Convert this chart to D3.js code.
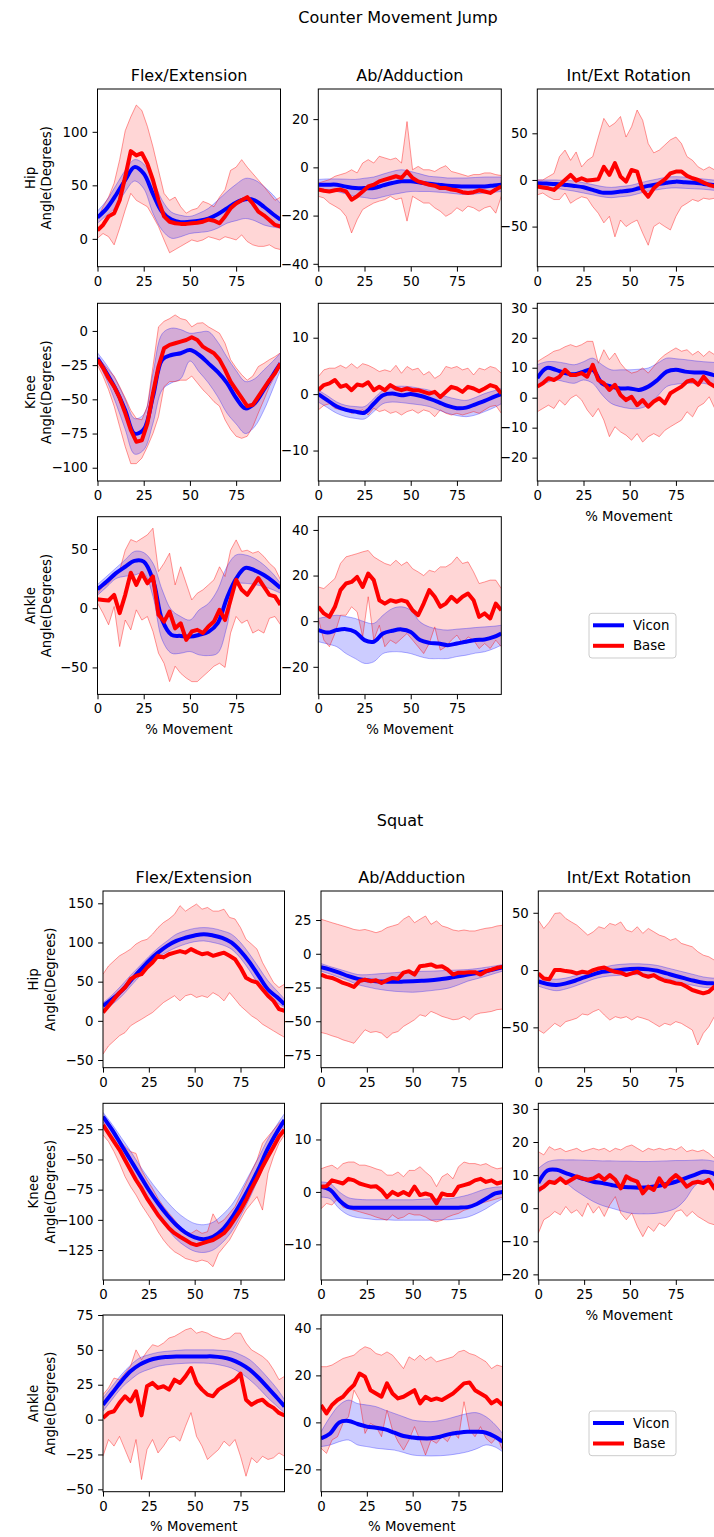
<!DOCTYPE html>
<html>
<head>
<meta charset="utf-8">
<title>Counter Movement Jump / Squat</title>
<style>
  body { margin: 0; background: #fff; }
  svg { display: block; font-family: "DejaVu Sans", sans-serif; }
</style>
</head>
<body>
<svg id="chart" width="714" height="1537"></svg>
<script src="https://cdn.jsdelivr.net/npm/d3@7"></script>
<script>
// % movement of the sampled points
var pctSmooth = [0, 5, 10, 15, 20, 25, 30, 35, 40, 45, 50, 55, 60, 65, 70, 75, 80, 85, 90, 95, 99];
var pctRaw = [0, 3, 6, 9, 12, 15, 18, 21, 24, 27, 30, 33, 36, 39, 42, 45, 48, 51, 54, 57, 60, 63, 66, 69, 72, 75, 78, 81, 84, 87, 90, 93, 96, 99];
var pctTicks = [0, 25, 50, 75];

var figTitles = ["Counter Movement Jump", "Squat"];
var colTitles = ["Flex/Extension", "Ab/Adduction", "Int/Ext Rotation"];
var jointNames = ["Hip", "Knee", "Ankle"];
var seriesNames = ["Vicon", "Base"];

// ---- Counter Movement Jump ----
var cmjHipFlexVicon   = [20, 28.5, 41, 55, 67, 61, 42, 25, 18, 15.5, 16, 17, 19, 23, 28.5, 34, 37, 36, 30, 23, 18];
var cmjHipFlexViconHi = [26, 36, 50, 64, 74, 70, 55, 36, 25, 22, 21, 24, 28.5, 36, 44, 51, 56.5, 55, 49, 41, 33];
var cmjHipFlexViconLo = [14.6, 22, 30, 44, 54, 47, 24, 8, 0.6, 2, 5, 6, 7, 10, 14.6, 17, 19, 17, 13, 11, 10];
var cmjHipFlexBase   = [8, 13, 21, 24, 36, 58, 82, 78, 80, 70, 55, 36, 21, 16, 14.6, 14, 14, 14.6, 15, 16, 18, 17, 14.6, 21, 28.5, 33, 36, 39, 33, 25.5, 22, 17.7, 13, 11.5];
var cmjHipFlexBaseHi = [19, 30, 39, 52, 74, 101, 114, 125, 120, 105, 86, 64, 42.5, 36, 39, 30, 24, 27, 28.5, 35, 33, 30, 39, 46, 64, 67, 74, 67, 61, 55, 49, 42.5, 36, 39];
var cmjHipFlexBaseLo = [0.6, 5, 2, -5.6, 10, 27, 42.5, 36, 33, 30, 21, 11.5, -1, -13, -10, -7, -4, -1, -2.5, -1, 2, 0.6, -1, 2, 0.6, -1, 3.7, -2.5, -5.6, -7, -7, -5.6, -8.7, -10];
var cmjHipFlexTicks = [0, 50, 100];

var cmjHipAbVicon   = [-7.2, -7.2, -7.2, -8, -8.6, -8.6, -8.6, -7.5, -6.5, -5.8, -5.8, -6.3, -6.8, -7.2, -7.6, -7.8, -7.9, -7.9, -7.9, -7.5, -7.2];
var cmjHipAbViconHi = [-5, -4.8, -4.8, -4.9, -5, -4.5, -4, -2.8, -1.7, -1, -1.7, -2.7, -3.7, -4, -4.4, -4.4, -4.4, -4.2, -4, -4, -4];
var cmjHipAbViconLo = [-8.6, -9.3, -10, -11, -12, -12.5, -13, -12.2, -11.3, -10.6, -10, -10, -10, -10.3, -10.6, -11, -11.3, -11, -10.6, -10.3, -10];
var cmjHipAbBase   = [-9.2, -9.7, -10, -9.5, -9.2, -10, -13.4, -12, -10, -7.9, -7.2, -5.8, -5.1, -4.4, -3.7, -4.4, -1.7, -4.4, -5.8, -6.5, -7.2, -7.6, -8.6, -8.6, -9.2, -9.5, -10.3, -10.6, -10.3, -9.5, -10, -10.6, -9.2, -7.9];
var cmjHipAbBaseHi = [-6.5, -5.8, -5.1, -3.7, -3, -2.3, -1, -2.3, 1.8, 3.2, 1.8, 4.6, 3.9, 3.2, 3.9, 1.8, 19, -1, 0.4, -1, -1, -1.7, -0.3, 0.7, -1.7, -2.3, -3, -3.7, -3, -3, -2.3, -2.3, -3, -3.4];
var cmjHipAbBaseLo = [-12, -12.7, -14.8, -16.1, -17.5, -20.3, -27.2, -21.7, -17.5, -16.1, -14.8, -14, -13.4, -12, -13.4, -12.7, -22.3, -12, -13.4, -14.8, -14.8, -16.8, -18.2, -20.3, -19, -16.8, -18.2, -16.1, -16.8, -18.2, -16.8, -16.1, -19, -12];
var cmjHipAbTicks = [-40, -20, 0, 20];

var cmjHipRotVicon   = [-3.6, -3.9, -4.3, -5.3, -6.4, -7.9, -10.7, -13.6, -13.6, -12.5, -11.4, -8.9, -6.4, -4.6, -2.9, -1.8, -2.5, -2.9, -4.3, -5.4, -6.4];
var cmjHipRotViconHi = [0, 0, 0, -0.5, -1, -3, -5, -7, -8, -7, -6, -3.5, -1, 1, 3, 3.5, 3, 2, 1, 0, -1];
var cmjHipRotViconLo = [-8, -8.5, -9, -10.5, -12, -14, -16, -18, -19, -18, -17, -14.5, -12, -10.5, -9, -8.5, -9, -9.5, -10, -11, -12];
var cmjHipRotBase   = [-7, -8, -9, -10.7, -5.4, 0, 5.4, -0.7, 1.8, -0.7, 0, 0.7, 14, 5.4, 18, 3.6, -1.8, 10.7, 9, -10.7, -18, -9, -3.6, 0.7, 7, 9, 9, 4.3, 1.8, 0, -2.9, -5.4, -7, -7.9];
var cmjHipRotBaseHi = [0, 0, 3.6, 7, 25, 32, 21, 30, 14, 21, 25, 46, 66, 57, 61, 68, 46, 57, 75, 64, 39, 29, 32, 37.5, 43, 46, 39, 25, 21, 14, 10.7, 14, 10.7, 9];
var cmjHipRotBaseLo = [-16, -14, -18, -21, -21, -14, -25, -21, -18, -19.6, -28.6, -35.7, -46, -39, -61, -43, -50, -46, -43, -57, -70, -50, -46, -50, -53.6, -39, -28.6, -25, -21, -23, -19.6, -20.7, -19.6, -18];
var cmjHipRotTicks = [-50, 0, 50];

var cmjKneeFlexVicon   = [-20, -31, -43, -58, -75, -72, -48, -21, -17.6, -16.3, -14, -17.6, -23.7, -30, -38, -49, -56.6, -53, -43, -32, -23.7];
var cmjKneeFlexViconHi = [-16, -25, -36, -50, -64, -61, -31, -2, 2, 1, -1.7, -1, -0.5, -8, -19, -29, -37, -35, -28.5, -22, -16];
var cmjKneeFlexViconLo = [-22, -36, -53, -72, -90, -87, -67.6, -43, -38, -35, -22, -30, -38, -48, -60, -68, -75, -70, -58, -42, -28.5];
var cmjKneeFlexBase   = [-21, -27, -34.6, -40.7, -49, -60, -72.4, -81, -80, -67.6, -45.6, -26, -12.7, -10.2, -9, -7.8, -6.6, -4.6, -6.6, -11.5, -14, -16.3, -21, -28.5, -37, -43, -49, -55, -54, -48, -42, -36, -31, -23.7];
var cmjKneeFlexBaseHi = [-18.8, -23.7, -28.5, -33, -40.7, -49, -58, -64, -65, -55, -26, 3, 7, 9, 11.7, 9, 8, 3, 5.6, 6, 3, 0.7, -1.7, -9, -21, -27, -32, -36, -33, -26, -23.7, -21, -18.8, -16];
var cmjKneeFlexBaseLo = [-25, -33, -43, -55, -70, -84.6, -97, -97, -93, -84.6, -75, -62.7, -40.7, -37, -37, -36, -36, -33, -38, -43, -47, -51.7, -55, -65, -72, -77, -78.5, -77, -70, -60, -50.5, -40.7, -33, -26];
var cmjKneeFlexTicks = [-100, -75, -50, -25, 0];

var cmjKneeAbVicon   = [0, -1.1, -2.2, -2.8, -3.1, -3.3, -1.7, -0.2, 0.1, -0.2, 0, -0.3, -0.8, -1.4, -2.1, -2.5, -2.4, -1.8, -1.2, -0.5, 0];
var cmjKneeAbViconHi = [0.7, -0.3, -1.4, -2, -2.2, -2.2, -0.8, 0.7, 1.3, 1.4, 1.3, 1, 0.7, 0, -0.5, -0.9, -1.1, -0.6, 0.1, 0.6, 1];
var cmjKneeAbViconLo = [-1.4, -2.4, -3.4, -4, -4.3, -4.4, -3.1, -1.7, -1.4, -1.5, -1.7, -1.9, -2.2, -2.8, -3.4, -3.8, -4, -3.7, -3.1, -2.4, -1.7];
var cmjKneeAbBase   = [0.7, 1.6, 1.9, 2.5, 1.3, 1.6, 0.7, 1.7, 1.5, 2.1, 0.7, 1.3, 0.7, 1.6, 1, 0.7, 1, 0.7, 0.7, 0.4, 0.1, 0.4, -0.5, 0.4, 1.3, 1, 0.4, 1.3, 1, 0.5, 1, 1.6, 1.3, 0.1];
var cmjKneeAbBaseHi = [3.1, 4.3, 4.6, 4.6, 5.1, 4.6, 5.4, 4.6, 5.4, 5.1, 4.6, 4, 4.3, 4, 5.1, 3.7, 4.9, 4.3, 4.6, 3.4, 4, 2.8, 3.4, 4.9, 4.6, 4.9, 4.3, 4.6, 3.4, 4.6, 4.3, 4.9, 4.6, 3.7];
var cmjKneeAbBaseLo = [-2.8, -2, -1.7, -2.5, -2.8, -2.8, -3.4, -3.1, -2.8, -3.7, -2.5, -3.1, -2.8, -3.4, -3.1, -3.7, -3.1, -2.8, -3.4, -2.8, -3.1, -4, -2.8, -3.4, -3.7, -3.4, -3.7, -3.4, -3.1, -3.4, -2.8, -2.2, -2, -3.4];
var cmjKneeAbTicks = [-10, 0, 10];

var cmjKneeRotVicon   = [6.5, 9.9, 9.3, 8.2, 7.8, 8.7, 9.3, 4.8, 3.7, 3.1, 3.1, 2.6, 3.7, 5.9, 8.7, 9.3, 8.7, 8.4, 8.4, 7.6, 7];
var cmjKneeRotViconHi = [11, 12, 12, 11.5, 11, 12, 13.2, 11, 9.3, 9.3, 9.3, 9.5, 9.9, 11.5, 13.2, 13, 12.7, 12.3, 12, 11.8, 11.5];
var cmjKneeRotViconLo = [3.7, 5, 5.9, 5.3, 4.8, 5.9, 4.8, 1, -1.9, -3, -3.6, -3.6, -2.5, 0.5, 3.7, 4.5, 4.8, 4.8, 4.8, 4, 3.1];
var cmjKneeRotBase   = [3.7, 4.8, 6.5, 5.9, 7, 9.3, 7.6, 7.6, 8.2, 7, 11, 5.9, 4.8, 2.6, 4.3, 0.9, -0.8, 0.3, -2.5, -0.8, -3, -1.3, -0.2, -1.9, 1.5, 2.6, 3.7, 5.4, 5.9, 4.3, 7, 4.8, 3.7, 4.3];
var cmjKneeRotBaseHi = [12, 13.2, 14.3, 15.5, 16, 17, 17.7, 17, 17.7, 18.8, 18.8, 11.5, 16, 12.7, 14.9, 11.5, 9.3, 8.2, 8.7, 9.9, 8.2, 10.4, 12.7, 14.3, 15.5, 16.6, 15.5, 16, 14.3, 15.5, 13.8, 15.5, 14.3, 13.8];
var cmjKneeRotBaseLo = [-4.7, -3.6, -2.5, -3.6, -0.8, -2.5, -0.2, 0.9, -0.8, -4.1, -6.4, -3.6, -7.5, -13, -9.7, -11.4, -12.5, -14.2, -12, -14.8, -13, -12, -13, -10.9, -9.7, -8.6, -7.5, -4.7, -6.4, -3, -1.9, 0.3, -3.6, -4.7];
var cmjKneeRotTicks = [-20, -10, 0, 10, 20, 30];

var cmjAnkleFlexVicon   = [16, 22.5, 29.6, 35, 40, 39.4, 24, -10, -22.5, -23.4, -24, -22.5, -20, -12.7, 8.5, 25, 34, 32, 28, 22.5, 17];
var cmjAnkleFlexViconHi = [20, 27, 34, 41, 48, 47, 38, 15.5, -1.4, -7, -10, -1.4, 4, 15.5, 35, 45, 45, 42, 36.6, 29, 21];
var cmjAnkleFlexViconLo = [11, 18, 25, 27, 28, 29.6, 10, -26.8, -38, -38, -36.6, -39.4, -40, -38, -15.5, 20, 21, 20, 18.3, 15.5, 12.7];
var cmjAnkleFlexBase   = [7.6, 7, 6.5, 11.3, -4.2, 11.3, 30, 19.7, 29.6, 21, 26.8, -5.6, -11.3, -2.8, -17, -12.7, -26.8, -19.7, -18.3, -21, -15.5, -11.3, -1.4, -10, 7, 24, 15.5, 11.3, 18.3, 25.4, 18.3, 11.3, 10, 2.8];
var cmjAnkleFlexBaseHi = [12.7, 18.3, 21, 26.8, 32, 49, 58, 56, 59, 62, 67.6, 31, 38, 46.5, 19.7, 35, 21, 7, 12.7, 15.5, 19.7, 24, 35, 26.8, 49, 57.7, 48, 49, 46.5, 48, 43.7, 38, 33.8, 24];
var cmjAnkleFlexBaseLo = [4.2, -4.2, -14, 1.4, -32.4, -10, -18.3, -1.4, -10, -7, -19.7, -38, -46.5, -62, -49, -55, -59, -62, -62, -57.7, -53.5, -49, -46.5, -50, -21, -7, -12.7, -10, -21, -18.3, -21, -8.5, -7, -14];
var cmjAnkleFlexTicks = [-50, 0, 50];

var cmjAnkleAbVicon   = [-3.9, -5, -3.9, -3.5, -4.7, -8.3, -9, -5.4, -4.2, -3.6, -4.7, -8.3, -9.5, -9.8, -10.5, -9.8, -9, -8.3, -8, -6.9, -5.4];
var cmjAnkleAbViconHi = [1.2, 2, 2.6, 2, 1.2, -0.3, -1, 2.6, 5.5, 6.3, 4.8, -0.3, -2.5, -3.5, -3.9, -3.5, -3.2, -2.8, -2.5, -2.2, -1.8];
var cmjAnkleAbViconLo = [-9, -10, -11.2, -14.2, -16.4, -18.5, -17.8, -14.2, -13.4, -13.5, -14.2, -15.5, -16.4, -16.4, -16.4, -15.5, -14.9, -14, -13.4, -12, -10.5];
var cmjAnkleAbBase   = [6.3, 3.4, 1.9, 6.3, 13.6, 16.5, 17.2, 19.4, 15, 20.9, 18, 9.2, 7.7, 9.2, 8.5, 9.2, 8.5, 4.8, 2.6, 7.7, 13.6, 10.7, 6.3, 7.7, 10.7, 8.5, 10.7, 12.1, 9.2, 1.9, 3.4, 1.2, 7.7, 4.8];
var cmjAnkleAbBaseHi = [15, 14.3, 16.5, 18.7, 25.3, 28.2, 28.9, 29.6, 30.4, 31, 28.2, 26.7, 25.3, 24.5, 26.7, 24.5, 26, 23, 21.6, 20, 22.3, 21.6, 23.8, 23.8, 25.3, 28.2, 25.3, 26, 21.6, 16.5, 17.2, 18, 18, 14.3];
var cmjAnkleAbBaseLo = [1.2, -8.3, -11.2, -5.4, 2.6, 2.6, 6.3, 4.1, -6.9, 10.7, -8.3, -1.8, -11.2, -8.3, -9.8, -7.6, -5.4, -8.3, -11.2, -14.2, -9.8, -2.5, -12.7, -11.2, -8.3, -6.1, -9.8, -6.9, -8.3, -12, -9.8, -12, -8.3, -11.2];
var cmjAnkleAbTicks = [-20, 0, 20, 40];

// ---- Squat ----
var sqHipFlexVicon   = [19, 27.7, 38, 51, 64, 76.6, 87, 95.7, 102, 106, 109, 110.6, 109, 106, 100, 89, 74.5, 57, 40, 30, 21];
var sqHipFlexViconHi = [23, 33, 45, 58, 70, 82, 93, 102, 110.6, 115, 118, 119, 118, 115, 110.6, 100, 85, 68, 51, 38, 27.7];
var sqHipFlexViconLo = [12.8, 21, 31, 44, 57, 70, 81, 88, 93.6, 98, 101, 102, 100, 97, 91.5, 80, 64, 46, 32, 23, 17];
var sqHipFlexBase   = [10.6, 19, 27.7, 36, 42.5, 53, 57.4, 59.6, 68, 74.5, 83, 81, 85, 87, 89, 87, 91.5, 88, 85, 86.4, 83, 85, 87, 83, 78.7, 68, 55, 51, 49, 40.4, 32, 25.5, 14.9, 12.8];
var sqHipFlexBaseHi = [59.6, 70, 76.6, 83, 87, 91.5, 98, 102, 104, 110.6, 119, 125.5, 130, 136, 147, 140, 144.7, 149, 142.5, 144.7, 140, 140, 142.5, 132, 130, 119, 104, 98, 91.5, 74.5, 61.7, 49, 42.5, 46.8];
var sqHipFlexBaseLo = [-42.5, -32, -25.5, -19, -15, -6.4, -2, 2, 6.4, 10.6, 17, 23.4, 27.7, 32, 25.5, 32, 34, 29.8, 32, 29.8, 36, 32, 25.5, 36, 27.7, 19, 12.8, 6.4, 2, -4.3, -8.5, -12.8, -17, -21];
var sqHipFlexTicks = [-50, 0, 50, 100, 150];

var sqHipAbVicon   = [-10, -11.7, -14, -16.6, -18.6, -19.6, -20.3, -20.6, -20.8, -20.6, -20.3, -20, -19.6, -18.8, -17.9, -16.7, -15.4, -14.2, -12.9, -11.4, -10];
var sqHipAbViconHi = [-7.2, -9.5, -11.5, -13.5, -15.4, -15.5, -15, -14.5, -14, -13.5, -13.2, -13, -12.9, -12.6, -12.3, -12, -11.7, -11, -10, -9, -8];
var sqHipAbViconLo = [-12.9, -15, -17.5, -20, -22.8, -24.5, -26, -27, -27.8, -28.2, -28.5, -28, -27.3, -26.5, -25.3, -23, -20.3, -18.5, -16.6, -14.5, -12.9];
var sqHipAbBase   = [-15.4, -17.1, -17.9, -19.6, -21.6, -22.8, -24.6, -20.3, -19.1, -20.3, -19.6, -21.6, -19.6, -17.9, -18.6, -14, -12.9, -15.4, -9.2, -8.7, -7.9, -9.7, -9.2, -11.7, -15.4, -14, -14, -13.6, -13.6, -15.4, -12.9, -11.7, -10.4, -9.7];
var sqHipAbBaseHi = [25.6, 24.3, 23, 21.8, 20.6, 19.4, 18, 17.4, 18, 16.9, 15.6, 16.9, 19.4, 20.6, 21.8, 25.6, 28, 23, 25.6, 28, 21.8, 24.3, 20.6, 19.4, 17.6, 16.9, 17.6, 16.9, 16.9, 18, 18.9, 19.4, 20.6, 21.1];
var sqHipAbBaseLo = [-58.3, -59.3, -60.8, -62, -63.8, -65, -66.3, -61.3, -56.3, -58.3, -57.6, -58.8, -62.5, -58.8, -57.6, -53.8, -51.4, -48.9, -45.2, -46.4, -42.7, -44.4, -46.4, -47.6, -48.9, -48.4, -46.4, -48.9, -45.2, -43.9, -43.4, -42.7, -41.4, -41];
var sqHipAbTicks = [-75, -50, -25, 0, 25];

var sqHipRotVicon   = [-10, -12.2, -13, -11.6, -9.3, -6.4, -3.8, -1.5, -0.6, 0, 0.9, 1.2, 0.6, -0.6, -2.9, -5.2, -7.3, -9.3, -11, -11.6, -11.6];
var sqHipRotViconHi = [-6, -7.5, -8, -7, -5, -2.5, 0, 2, 4, 5, 5.5, 5.5, 5, 4, 2, 0, -2, -4, -6, -7, -7];
var sqHipRotViconLo = [-14, -16.5, -18, -16.5, -14, -11, -8, -6, -5, -4.5, -4, -4, -4, -5.5, -7.5, -10, -12, -13.5, -15, -15.5, -16];
var sqHipRotBase   = [-2.9, -7.3, -8, 0, 0, -0.9, -1.5, -2.9, -1.5, -2.3, 0, 1.5, 2.3, 0, -1.5, -2.3, -4.4, -2.9, -1.5, -4.4, -5.8, -4.4, -7.3, -9.3, -10.2, -11.6, -12.2, -14.5, -17.4, -18.9, -20.3, -18.9, -14.5, -16];
var sqHipRotBaseHi = [43.6, 36.3, 42, 49.4, 50, 45, 42, 39.2, 34.9, 30.5, 33.4, 37.8, 36.3, 40.7, 39.2, 42, 34.9, 33.4, 37.8, 32, 36.3, 33.4, 30.5, 29, 26, 27.6, 23.3, 21.8, 20.3, 16, 13, 11.6, 8.7, 19];
var sqHipRotBaseLo = [-52.3, -55.2, -50.9, -46.5, -49.4, -45, -43.6, -42, -38.4, -39.2, -36.3, -34.3, -39.2, -43.6, -40.7, -42, -40.7, -43.6, -40.7, -42, -43.6, -46.5, -49.4, -46.5, -48, -45, -46.5, -49.4, -52.3, -65.4, -55.2, -49.4, -40.7, -43.6];
var sqHipRotTicks = [-50, 0, 50];

var sqKneeFlexVicon   = [-14.5, -25.5, -38, -50.4, -62.8, -75.3, -86.3, -96, -104.3, -110.6, -114.5, -116, -114, -108.4, -98.8, -86.3, -72.5, -57.3, -40.7, -27, -17.3];
var sqKneeFlexViconHi = [-11, -21, -32, -43, -55, -66, -76, -85, -93, -99, -103, -104, -102, -96, -88, -76, -62, -48, -33, -21, -12];
var sqKneeFlexViconLo = [-19, -32, -45, -58, -71, -84, -96, -107, -116, -122, -126, -127, -125, -119, -110, -97, -82, -65, -48, -33, -22];
var sqKneeFlexBase   = [-21.4, -28.3, -35.2, -42, -50.4, -58.7, -67, -74, -82.2, -89, -96, -101.5, -107, -111, -114, -116.7, -119.5, -120.9, -119.5, -118, -116.7, -114, -111, -105.7, -98.8, -91.9, -83.6, -74, -65.6, -56, -47.6, -39.4, -31, -25.5];
var sqKneeFlexBaseHi = [-18.6, -22.8, -28.3, -33.8, -39.4, -43.5, -45, -58.7, -67, -74, -82.2, -89, -94.6, -100, -105.7, -109.8, -111.2, -108.4, -111.2, -109.8, -95, -102.9, -100, -94.6, -89, -79.4, -69.8, -60, -50.4, -36.6, -31, -25.5, -20, -17.3];
var sqKneeFlexBaseLo = [-29.7, -35.2, -43.5, -53.2, -64.2, -72.5, -79.4, -87.7, -94.6, -101.5, -109.8, -116.7, -122.2, -126.4, -129, -132, -133.3, -134.7, -133.3, -134.7, -138.8, -127.8, -122.2, -116.7, -108.4, -100, -91.9, -86.3, -80.8, -91.9, -61.5, -47.6, -36.6, -29.7];
var sqKneeFlexTicks = [-125, -100, -75, -50, -25];

var sqKneeAbVicon   = [1, 0.4, -1.6, -2.9, -3, -3, -3, -3, -3, -3, -3, -3, -3, -3, -3, -3, -2.9, -2.3, -1.3, -0.3, 0];
var sqKneeAbViconHi = [1.9, 1.6, 0, -1.1, -1.4, -1.5, -1.5, -1.5, -1.5, -1.5, -1.5, -1.4, -1.3, -1.3, -1.3, -1, -0.6, 0, 0.6, 0.9, 1];
var sqKneeAbViconLo = [-1, -1.3, -3.2, -4.4, -4.9, -5.1, -5.3, -5.3, -5.4, -5.4, -5.4, -5.4, -5.4, -5.3, -5.3, -5.1, -4.8, -4.1, -3.2, -2.1, -1.3];
var sqKneeAbBase   = [1, 1.1, 2.2, 1.9, 1.6, 2.5, 2.2, 1.6, 1.3, 1, 1.1, 0.3, -1, 0, -0.6, 0, -0.6, 1, -0.6, -0.3, -0.6, -2.2, -0.3, -0.6, -0.6, 1, 1.3, 1.6, 2.2, 2.5, 1.9, 2.2, 1.6, 1.9];
var sqKneeAbBaseHi = [4.4, 4.8, 5.1, 4.4, 5.4, 5.7, 5.7, 5.1, 5.1, 4.8, 4.4, 4.1, 3.2, 3.2, 3.8, 2.9, 4.1, 4.1, 4.8, 3.8, 2.9, 1, 2.9, 3.5, 2.5, 4.8, 5.7, 5.4, 5.4, 5.1, 5.4, 4.8, 4.4, 4.6];
var sqKneeAbBaseLo = [-3.2, -2.2, -2.5, -1.3, -2.9, -3.2, -3.5, -3.8, -4.1, -4.4, -4.8, -5.1, -5.4, -4.4, -5.1, -4.8, -4.1, -4.4, -4.4, -4.8, -5.4, -5.7, -5.4, -4.8, -4.4, -4.1, -3.5, -3.2, -2.5, -2.2, -1.9, -1.6, -1.3, -1];
var sqKneeAbTicks = [-10, 0, 10];

var sqKneeRotVicon   = [7.6, 11.4, 11.6, 10.6, 9.6, 8.8, 8, 7.6, 7, 6.5, 6.3, 6.2, 6.3, 6.7, 7.3, 8, 9, 10, 11, 10.6, 9];
var sqKneeRotViconHi = [12, 14, 14.6, 14.6, 14.6, 14.5, 14.4, 14.3, 14.3, 14.2, 14.2, 14.1, 14.1, 14.2, 14.3, 14.4, 14.4, 14.5, 14.6, 14.3, 13.6];
var sqKneeRotViconLo = [4.5, 7, 8.6, 7.6, 5.5, 3.7, 2, 0.8, 0, -0.8, -1.5, -1.7, -1.7, -1.5, -1, 0, 2.5, 6.5, 8.6, 7.5, 6];
var sqKneeRotBase   = [5.5, 6.5, 8, 7.6, 9, 7.6, 8.6, 9.6, 9, 8.6, 9, 10, 8.6, 10, 8.6, 6, 9.6, 8.6, 8, 4.5, 6.5, 5.5, 9, 6.5, 8.6, 10, 8.6, 6.5, 7.6, 8, 7.6, 8.6, 6, 4.5];
var sqKneeRotBaseHi = [17.1, 16.1, 18.6, 17.6, 18.1, 17.1, 17.6, 18.1, 17.1, 17.6, 18.1, 17.6, 18.1, 17.1, 18.1, 17.6, 18.6, 19.1, 18.1, 17.1, 18.1, 17.6, 18.1, 17.6, 18.1, 17.6, 18.6, 17.1, 17.6, 17.1, 17.6, 16.6, 15.1, 14.1];
var sqKneeRotBaseLo = [-7.6, -3.5, -2.5, -1, -2, 0.5, -1.5, -0.5, -2.5, 1.5, -1.5, 0.5, -2.5, 1, 3.5, -1.5, -3.5, -1.5, -5.5, -8.6, -5.5, -7, -4.5, -5.5, -3.5, -1, -0.5, -2.5, -1, -2.5, -3.5, -4.5, -5, -5.5];
var sqKneeRotTicks = [-20, -10, 0, 10, 20, 30];

var sqAnkleFlexVicon   = [10.7, 19, 27.4, 34.6, 39.4, 42.5, 44.2, 44.9, 45.3, 45.3, 45.3, 45.3, 45.3, 44.6, 43, 40, 35.8, 29.8, 22.7, 15.5, 9.5];
var sqAnkleFlexViconHi = [15.5, 24, 32.2, 39, 44.2, 46.5, 48.2, 49, 49.6, 50, 50, 50, 50, 49.6, 49, 46.5, 43, 37, 29.8, 22, 14.3];
var sqAnkleFlexViconLo = [6, 14.5, 22.7, 28.5, 33.4, 36, 38.2, 39.3, 40, 40.4, 40.6, 40.5, 40, 38.8, 37, 33.5, 28.6, 22.5, 15.5, 9.5, 4.8];
var sqAnkleFlexBase   = [1.2, 4.8, 6, 12, 16.7, 13, 20.3, 3, 23.9, 26.3, 22.7, 23.9, 21.5, 28.6, 26.3, 31, 37, 26.3, 21.5, 17.9, 16.7, 21.5, 23.9, 26.3, 28.6, 33, 14.3, 10.7, 13, 14.3, 10.7, 8.4, 4.8, 2.9];
var sqAnkleFlexBaseHi = [17.9, 22.7, 29.8, 28.6, 33.4, 38.2, 50, 43, 48.9, 53.7, 52.5, 54.9, 58.5, 59.7, 62, 64.4, 65.6, 62, 63.2, 62, 59.7, 58.5, 57.3, 58.5, 62, 62, 54.9, 50, 47.7, 45.3, 41.8, 35.8, 28.6, 31];
var sqAnkleFlexBaseLo = [-26.3, -14.3, -19, -12, -21.5, -31, -14.3, -43, -21.5, -14.3, -23.9, -19, -13, -12, -15.5, -4.8, 5, -12, -19, -28.6, -25, -21.5, -15.5, -19, -14.3, -26.3, -40.6, -27.4, -31, -26.3, -28.6, -27.4, -23.9, -26.3];
var sqAnkleFlexTicks = [-50, -25, 0, 25, 50, 75];

var sqAnkleAbVicon   = [-6.8, -4.7, 0, 0.6, -0.7, -1.8, -2.3, -3, -4.4, -5.8, -6.4, -6.8, -6.8, -6.1, -5, -4.4, -4, -4, -4.4, -6.1, -8.2];
var sqAnkleAbViconHi = [-4, 2.4, 7.4, 9.5, 8, 7.4, 6.7, 5.2, 3.8, 2.4, 1, 0.5, 0.3, 0.8, 1.7, 2.8, 3.8, 4.1, 2.4, -1, -4.7];
var sqAnkleAbViconLo = [-10.3, -9.6, -8.2, -7.5, -9.6, -10.3, -11, -11.4, -11.8, -12.8, -13.9, -14.2, -14.3, -14.2, -13.9, -13.3, -12.5, -11.2, -9.6, -10.5, -12.5];
var sqAnkleAbBase   = [7.4, 3.8, 7.4, 9.5, 10.9, 13.7, 15.9, 20.8, 19.4, 13.7, 12.3, 10.9, 16.6, 12.3, 10.2, 10.9, 12.3, 13.7, 8.1, 10.9, 9.5, 10.2, 9.5, 10.9, 12.3, 14.4, 16.6, 17, 13.7, 12.3, 10.9, 8.1, 9.5, 7.4];
var sqAnkleAbBaseHi = [23.7, 23.7, 24.4, 25.8, 27.2, 27.9, 28.6, 30.7, 32.2, 31.4, 29.3, 28.6, 30, 28.6, 25.8, 22.9, 27.9, 26.5, 28.6, 26.5, 27.9, 25.8, 26.5, 27.2, 27.9, 30, 30.7, 29.3, 28.6, 27.2, 25.8, 22.9, 24.4, 23.7];
var sqAnkleAbBaseLo = [-11, -13.2, -7.5, -6.1, -0.4, 2.4, 13.7, 9.5, -4.7, -0.4, -1.8, -6.1, 5.2, -3.3, -8.2, -11.8, -7.5, -1.8, -7.5, -13.9, -7.5, -8.9, -6.1, -8.2, -4, -6.8, 8.8, -3.3, -6.1, -1.8, -6.8, -8.9, -6.1, -11.8];
var sqAnkleAbTicks = [-20, 0, 20, 40];

// ---- layout ----
var figs = [
  { title: figTitles[0], titleX: 398, titleY: 23, cols: [97.5, 318.3, 537.3], w: 183, rows: [89, 303.3, 516.7], h: 177.7, labelX: [35.4, 51.4], legendY: 613.3 },
  { title: figTitles[1], titleX: 400, titleY: 826, cols: [103, 321, 538.3], w: 181.5, rows: [891, 1103.3, 1315], h: 176.7, labelX: [38, 54.7], legendY: 1411 }
];

var panels = [
  { fig: 0, row: 0, col: 0, yDomain: [-26, 140], ticks: cmjHipFlexTicks, v: cmjHipFlexVicon, vHi: cmjHipFlexViconHi, vLo: cmjHipFlexViconLo, b: cmjHipFlexBase, bHi: cmjHipFlexBaseHi, bLo: cmjHipFlexBaseLo },
  { fig: 0, row: 0, col: 1, yDomain: [-41.2, 32.5], ticks: cmjHipAbTicks, v: cmjHipAbVicon, vHi: cmjHipAbViconHi, vLo: cmjHipAbViconLo, b: cmjHipAbBase, bHi: cmjHipAbBaseHi, bLo: cmjHipAbBaseLo },
  { fig: 0, row: 0, col: 2, yDomain: [-93, 97.5], ticks: cmjHipRotTicks, v: cmjHipRotVicon, vHi: cmjHipRotViconHi, vLo: cmjHipRotViconLo, b: cmjHipRotBase, bHi: cmjHipRotBaseHi, bLo: cmjHipRotBaseLo },
  { fig: 0, row: 1, col: 0, yDomain: [-109.7, 20.2], ticks: cmjKneeFlexTicks, v: cmjKneeFlexVicon, vHi: cmjKneeFlexViconHi, vLo: cmjKneeFlexViconLo, b: cmjKneeFlexBase, bHi: cmjKneeFlexBaseHi, bLo: cmjKneeFlexBaseLo },
  { fig: 0, row: 1, col: 1, yDomain: [-15.4, 16.1], ticks: cmjKneeAbTicks, v: cmjKneeAbVicon, vHi: cmjKneeAbViconHi, vLo: cmjKneeAbViconLo, b: cmjKneeAbBase, bHi: cmjKneeAbBaseHi, bLo: cmjKneeAbBaseLo },
  { fig: 0, row: 1, col: 2, yDomain: [-27.8, 31.5], ticks: cmjKneeRotTicks, v: cmjKneeRotVicon, vHi: cmjKneeRotViconHi, vLo: cmjKneeRotViconLo, b: cmjKneeRotBase, bHi: cmjKneeRotBaseHi, bLo: cmjKneeRotBaseLo, xlabel: true },
  { fig: 0, row: 2, col: 0, yDomain: [-72.8, 77.3], ticks: cmjAnkleFlexTicks, v: cmjAnkleFlexVicon, vHi: cmjAnkleFlexViconHi, vLo: cmjAnkleFlexViconLo, b: cmjAnkleFlexBase, bHi: cmjAnkleFlexBaseHi, bLo: cmjAnkleFlexBaseLo, xlabel: true },
  { fig: 0, row: 2, col: 1, yDomain: [-32.1, 45.8], ticks: cmjAnkleAbTicks, v: cmjAnkleAbVicon, vHi: cmjAnkleAbViconHi, vLo: cmjAnkleAbViconLo, b: cmjAnkleAbBase, bHi: cmjAnkleAbBaseHi, bLo: cmjAnkleAbBaseLo, xlabel: true },

  { fig: 1, row: 0, col: 0, yDomain: [-59.8, 165.7], ticks: sqHipFlexTicks, v: sqHipFlexVicon, vHi: sqHipFlexViconHi, vLo: sqHipFlexViconLo, b: sqHipFlexBase, bHi: sqHipFlexBaseHi, bLo: sqHipFlexBaseLo },
  { fig: 1, row: 0, col: 1, yDomain: [-84.4, 46.5], ticks: sqHipAbTicks, v: sqHipAbVicon, vHi: sqHipAbViconHi, vLo: sqHipAbViconLo, b: sqHipAbBase, bHi: sqHipAbBaseHi, bLo: sqHipAbBaseLo },
  { fig: 1, row: 0, col: 2, yDomain: [-85.2, 69], ticks: sqHipRotTicks, v: sqHipRotVicon, vHi: sqHipRotViconHi, vLo: sqHipRotViconLo, b: sqHipRotBase, bHi: sqHipRotBaseHi, bLo: sqHipRotBaseLo },
  { fig: 1, row: 1, col: 0, yDomain: [-149.8, -3.5], ticks: sqKneeFlexTicks, v: sqKneeFlexVicon, vHi: sqKneeFlexViconHi, vLo: sqKneeFlexViconLo, b: sqKneeFlexBase, bHi: sqKneeFlexBaseHi, bLo: sqKneeFlexBaseLo },
  { fig: 1, row: 1, col: 1, yDomain: [-16.8, 16.9], ticks: sqKneeAbTicks, v: sqKneeAbVicon, vHi: sqKneeAbViconHi, vLo: sqKneeAbViconLo, b: sqKneeAbBase, bHi: sqKneeAbBaseHi, bLo: sqKneeAbBaseLo },
  { fig: 1, row: 1, col: 2, yDomain: [-21.7, 31.7], ticks: sqKneeRotTicks, v: sqKneeRotVicon, vHi: sqKneeRotViconHi, vLo: sqKneeRotViconLo, b: sqKneeRotBase, bHi: sqKneeRotBaseHi, bLo: sqKneeRotBaseLo, xlabel: true },
  { fig: 1, row: 2, col: 0, yDomain: [-51.7, 75], ticks: sqAnkleFlexTicks, v: sqAnkleFlexVicon, vHi: sqAnkleFlexViconHi, vLo: sqAnkleFlexViconLo, b: sqAnkleFlexBase, bHi: sqAnkleFlexBaseHi, bLo: sqAnkleFlexBaseLo, xlabel: true },
  { fig: 1, row: 2, col: 1, yDomain: [-29.5, 45.7], ticks: sqAnkleAbTicks, v: sqAnkleAbVicon, vHi: sqAnkleAbViconHi, vLo: sqAnkleAbViconLo, b: sqAnkleAbBase, bHi: sqAnkleAbBaseHi, bLo: sqAnkleAbBaseLo, xlabel: true }
];

var svg = d3.select("#chart");
var FONT = "DejaVu Sans, sans-serif";
var fmt = d3.format("d");
var clipCount = 0;

function drawPanel(p) {
  var f = figs[p.fig];
  var left = f.cols[p.col], top = f.rows[p.row], w = f.w, h = f.h;
  var x = d3.scaleLinear().domain([0, 99]).range([left, left + w]);
  var y = d3.scaleLinear().domain(p.yDomain).range([top + h, top]);

  var clipId = "clip" + (clipCount++);
  svg.append("clipPath").attr("id", clipId)
    .append("rect").attr("x", left).attr("y", top).attr("width", w).attr("height", h);

  var plot = svg.append("g").attr("clip-path", "url(#" + clipId + ")");

  var smoothBand = d3.area()
    .x(function (d, i) { return x(pctSmooth[i]); })
    .y0(function (d) { return y(d[0]); })
    .y1(function (d) { return y(d[1]); })
    .curve(d3.curveCatmullRom);
  var smoothLine = d3.line()
    .x(function (d, i) { return x(pctSmooth[i]); })
    .y(function (d) { return y(d); })
    .curve(d3.curveCatmullRom);
  var rawBand = d3.area()
    .x(function (d, i) { return x(pctRaw[i]); })
    .y0(function (d) { return y(d[0]); })
    .y1(function (d) { return y(d[1]); });
  var rawLine = d3.line()
    .x(function (d, i) { return x(pctRaw[i]); })
    .y(function (d) { return y(d); });

  // bands
  plot.append("path")
    .datum(d3.zip(p.vLo, p.vHi))
    .attr("d", smoothBand)
    .attr("fill", "blue").attr("fill-opacity", 0.2);
  plot.append("path")
    .datum(d3.zip(p.bLo, p.bHi))
    .attr("d", rawBand)
    .attr("fill", "red").attr("fill-opacity", 0.16);

  // band edges
  [p.vLo, p.vHi].forEach(function (s) {
    plot.append("path").datum(s).attr("d", smoothLine)
      .attr("fill", "none").attr("stroke", "blue").attr("stroke-opacity", 0.3).attr("stroke-width", 1);
  });
  [p.bLo, p.bHi].forEach(function (s) {
    plot.append("path").datum(s).attr("d", rawLine)
      .attr("fill", "none").attr("stroke", "red").attr("stroke-opacity", 0.4).attr("stroke-width", 1);
  });

  // means
  plot.append("path").datum(p.v).attr("d", smoothLine)
    .attr("fill", "none").attr("stroke", "blue").attr("stroke-width", 4);
  plot.append("path").datum(p.b).attr("d", rawLine)
    .attr("fill", "none").attr("stroke", "red").attr("stroke-width", 4)
    .attr("stroke-linejoin", "round");

  // axes
  var ax = svg.append("g")
    .attr("transform", "translate(0," + (top + h) + ")")
    .call(d3.axisBottom(x).tickValues(pctTicks).tickSize(4.9).tickPadding(4.6).tickFormat(fmt));
  var ay = svg.append("g")
    .attr("transform", "translate(" + left + ",0)")
    .call(d3.axisLeft(y).tickValues(p.ticks).tickSize(4.9).tickPadding(4.6).tickFormat(fmt));
  [ax, ay].forEach(function (a) {
    a.select(".domain").remove();
    a.attr("font-size", 13.3).attr("font-family", FONT).attr("color", "#000");
    a.selectAll(".tick line").attr("stroke-width", 1);
  });

  svg.append("rect")
    .attr("x", left).attr("y", top).attr("width", w).attr("height", h)
    .attr("fill", "none").attr("stroke", "#000").attr("stroke-width", 1);

  if (p.row === 0) {
    svg.append("text")
      .attr("x", left + w / 2).attr("y", top - 8)
      .attr("text-anchor", "middle")
      .attr("font-size", 16).attr("font-family", FONT)
      .text(colTitles[p.col]);
  }
  if (p.col === 0) {
    var cy = top + h / 2;
    svg.append("text")
      .attr("transform", "translate(" + f.labelX[0] + "," + cy + ") rotate(-90)")
      .attr("text-anchor", "middle").attr("font-size", 13.3).attr("font-family", FONT)
      .text(jointNames[p.row]);
    svg.append("text")
      .attr("transform", "translate(" + f.labelX[1] + "," + cy + ") rotate(-90)")
      .attr("text-anchor", "middle").attr("font-size", 13.3).attr("font-family", FONT)
      .text("Angle(Degrees)");
  }
  if (p.xlabel) {
    svg.append("text")
      .attr("x", left + w / 2).attr("y", top + h + 39.5)
      .attr("text-anchor", "middle").attr("font-size", 13.3).attr("font-family", FONT)
      .text("% Movement");
  }
}

panels.forEach(drawPanel);

figs.forEach(function (f) {
  svg.append("text")
    .attr("x", f.titleX).attr("y", f.titleY)
    .attr("text-anchor", "middle")
    .attr("font-size", 16).attr("font-family", FONT)
    .text(f.title);

  // legend
  var lg = svg.append("g").attr("transform", "translate(589," + f.legendY + ")");
  lg.append("rect")
    .attr("x", 0).attr("y", 0).attr("width", 87).attr("height", 44.7)
    .attr("rx", 3).attr("fill", "#fff").attr("fill-opacity", 0.8)
    .attr("stroke", "#ccc").attr("stroke-width", 1);
  var colors = ["blue", "red"];
  seriesNames.forEach(function (name, i) {
    var ly = 12 + i * 20.5;
    lg.append("line")
      .attr("x1", 4).attr("x2", 35).attr("y1", ly).attr("y2", ly)
      .attr("stroke", colors[i]).attr("stroke-width", 4);
    lg.append("text")
      .attr("x", 44).attr("y", ly).attr("dy", "0.35em")
      .attr("font-size", 13.3).attr("font-family", FONT)
      .text(name);
  });
});
</script>
</body>
</html>
